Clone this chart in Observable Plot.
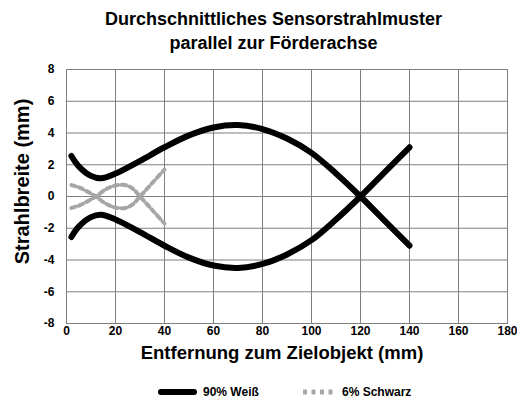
<!DOCTYPE html>
<html>
<head>
<meta charset="utf-8">
<script src="https://cdn.jsdelivr.net/npm/d3@7"></script>
<script src="https://cdn.jsdelivr.net/npm/@observablehq/plot@0.6"></script>
<style>
  html, body { margin: 0; padding: 0; background: #fff; }
  body { width: 517px; height: 401px; position: relative; overflow: hidden;
         font-family: "Liberation Sans", Arial, sans-serif; font-weight: bold; color: #000; }
  #title { position: absolute; left: 15px; top: 8px; width: 517px; text-align: center; font-size: 18px; line-height: 23.5px; white-space: nowrap; }
  #chart { position: absolute; left: 0; top: 56px; }
  #legend { position: absolute; left: 0; top: 382px; width: 517px; height: 20px; font-size: 12px; }
  .item { position: absolute; top: 0; display: flex; align-items: center; height: 20px; }
  .item svg { margin-right: 6px; }
</style>
</head>
<body>
<div id="title">Durchschnittliches Sensorstrahlmuster<br>parallel zur Förderachse</div>
<div id="chart"></div>
<div id="legend"></div>
<script>
// ---- data ----
const seriesNames = ["90% Weiß", "6% Schwarz"];
const xWhite = [2, 5, 10, 14, 20, 30, 40, 50, 60, 70, 80, 90, 100, 110, 120, 130, 140];
const wWhite = [2.55, 1.9, 1.3, 1.15, 1.45, 2.25, 3.1, 3.85, 4.35, 4.5, 4.25, 3.65, 2.75, 1.45, 0, -1.55, -3.1];
const xBlack = [2, 5, 8, 12, 16, 20, 24, 27, 30, 35, 40];
const wBlack = [0.72, 0.58, 0.35, 0, -0.45, -0.7, -0.72, -0.5, 0, 0.85, 1.7];
const xTicks = [0, 20, 40, 60, 80, 100, 120, 140, 160, 180];
const yTicks = [-8, -6, -4, -2, 0, 2, 4, 6, 8];
const xLabel = "Entfernung zum Zielobjekt (mm)";
const yLabel = "Strahlbreite (mm)";
const colors = ["#000000", "#a6a6a6"];

// build tables
const white = [];
xWhite.forEach((x, i) => white.push({x, y: wWhite[i], side: "upper"}));
xWhite.forEach((x, i) => white.push({x, y: -wWhite[i], side: "lower"}));
const black = [];
xBlack.forEach((x, i) => black.push({x, y: wBlack[i], side: "upper"}));
xBlack.forEach((x, i) => black.push({x, y: -wBlack[i], side: "lower"}));

const gridColor = "#7f7f7f";
const font = "'Liberation Sans', Arial, sans-serif";
const plot = Plot.plot({
  width: 517,
  height: 316,
  marginLeft: 66,
  marginRight: 10,
  marginTop: 13,
  marginBottom: 49,
  style: {fontFamily: font, fontWeight: "bold", fontSize: "12px", color: "#000", background: "#fff", overflow: "visible"},
  x: {domain: [0, 180], ticks: xTicks, tickSize: 0, tickPadding: 3, label: null, tickFormat: d => String(d)},
  y: {domain: [-8, 8], ticks: yTicks, tickSize: 0, tickPadding: 12, label: null, tickFormat: d => String(d)},
  marks: [
    Plot.gridX(xTicks, {stroke: gridColor, strokeOpacity: 1, strokeWidth: 1}),
    Plot.gridY(yTicks, {stroke: gridColor, strokeOpacity: 1, strokeWidth: 1}),
    Plot.frame({stroke: gridColor, strokeWidth: 1}),
    Plot.line(black, {x: "x", y: "y", z: "side", stroke: colors[1], strokeWidth: 4, strokeDasharray: "4.5,3.5", curve: "catmull-rom"}),
    Plot.line(white, {x: "x", y: "y", z: "side", stroke: colors[0], strokeWidth: 6, strokeLinecap: "round", curve: "catmull-rom"}),
    Plot.text([xLabel], {frameAnchor: "bottom", textAnchor: "middle", dy: 35, dx: -5, fontSize: 18.5, fontFamily: font}),
    Plot.text([yLabel], {frameAnchor: "left", textAnchor: "middle", dx: -44, dy: -15, rotate: -90, fontSize: 20, fontFamily: font})
  ]
});
document.getElementById("chart").appendChild(plot);

// legend
const legend = document.getElementById("legend");
const lefts = [157, 303];
seriesNames.forEach((name, i) => {
  const item = document.createElement("div");
  item.className = "item";
  item.style.left = lefts[i] + "px";
  const sw = i === 0
    ? `<svg width="40" height="10"><line x1="4" x2="37" y1="5" y2="5" stroke="${colors[0]}" stroke-width="6" stroke-linecap="round"/></svg>`
    : `<svg width="33" height="10"><line x1="0" x2="33" y1="5" y2="5" stroke="${colors[1]}" stroke-width="5" stroke-dasharray="4,4.5"/></svg>`;
  item.innerHTML = sw + `<span>${name}</span>`;
  legend.appendChild(item);
});
</script>
</body>
</html>
